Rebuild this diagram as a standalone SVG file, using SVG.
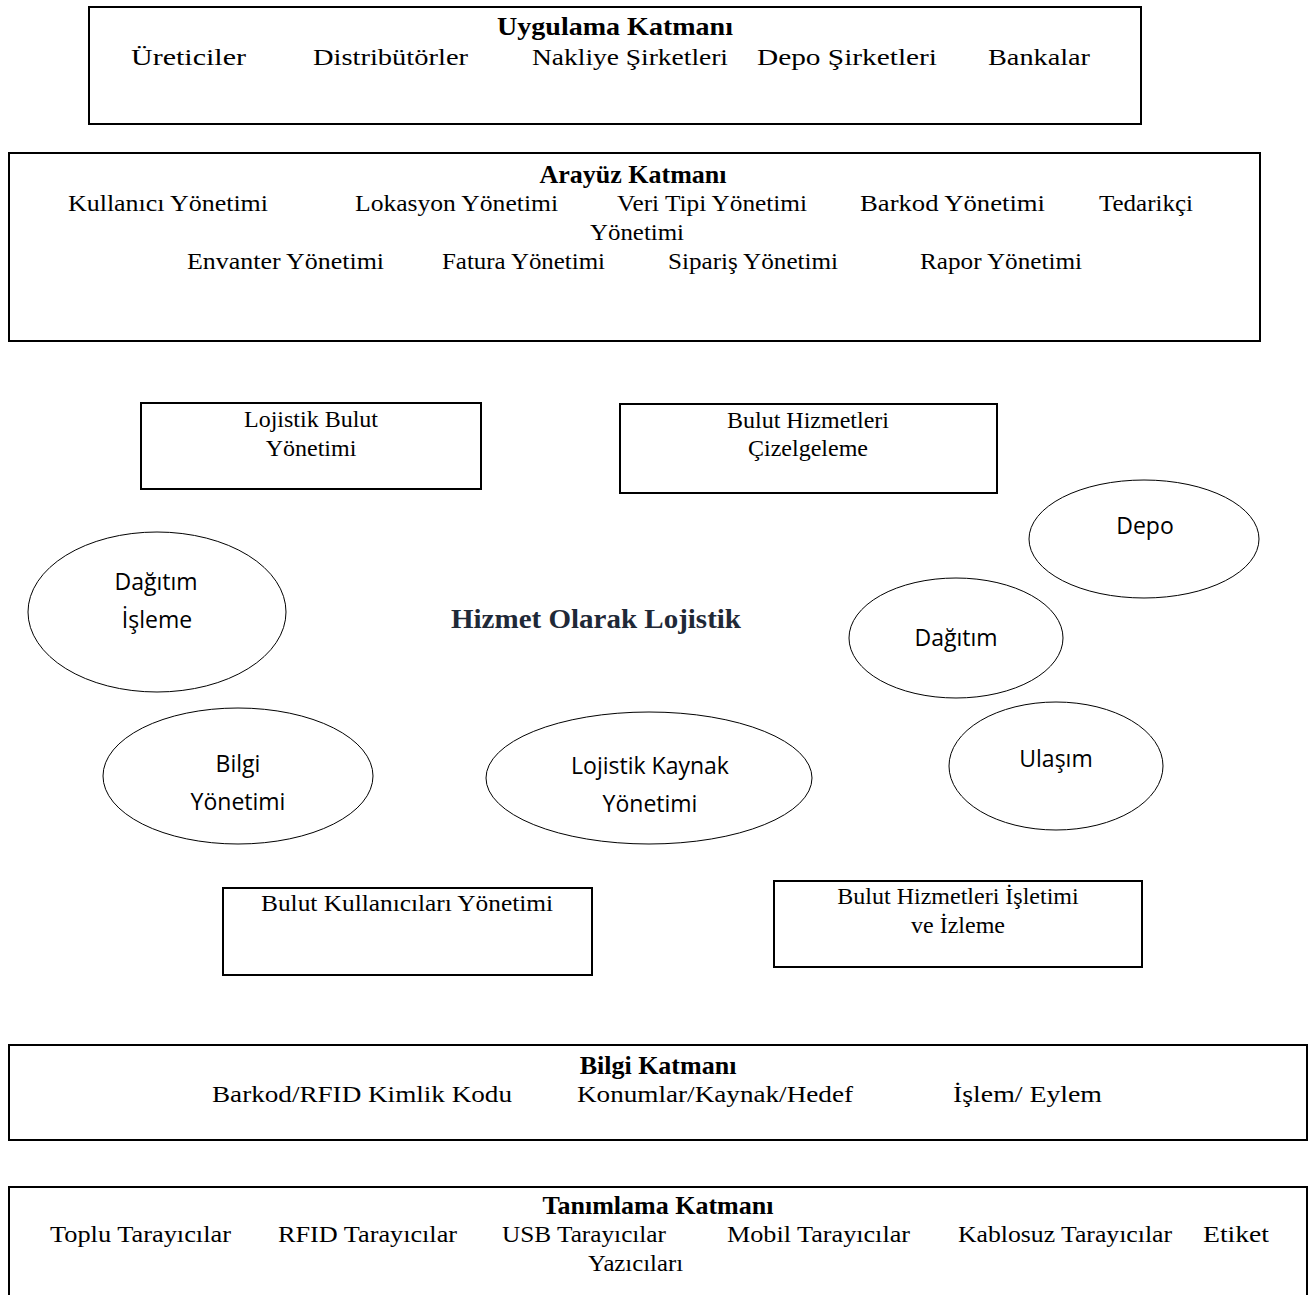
<svg xmlns="http://www.w3.org/2000/svg" width="1316" height="1295" viewBox="0 0 1316 1295">
<style>
.box{fill:#fff;stroke:#000;stroke-width:2}
.ell{fill:#fff;stroke:#000;stroke-width:1}
.t{font-family:"Liberation Serif",serif;font-size:24px;fill:#000}
.b{font-family:"Liberation Serif",serif;font-size:26px;font-weight:bold;fill:#000;text-anchor:middle}
.s{font-family:"Open Sans","Noto Sans",sans-serif;font-size:23px;fill:#000;text-anchor:middle}
.h{font-family:"Liberation Serif",serif;font-size:27px;font-weight:bold;fill:#1f2937}
.c{text-anchor:middle}
</style>
<rect width="1316" height="1295" fill="#fff"/>
<g id="connectors"></g>
<g id="uygulama">
<rect class="box" x="89" y="7" width="1052" height="117"/>
<text class="b" x="615" y="35" textLength="236" lengthAdjust="spacingAndGlyphs">Uygulama Katmanı</text>
<text class="t" x="131" y="65" textLength="115" lengthAdjust="spacingAndGlyphs">Üreticiler</text>
<text class="t" x="313" y="65" textLength="155" lengthAdjust="spacingAndGlyphs">Distribütörler</text>
<text class="t" x="532" y="65" textLength="196" lengthAdjust="spacingAndGlyphs">Nakliye Şirketleri</text>
<text class="t" x="757" y="65" textLength="180" lengthAdjust="spacingAndGlyphs">Depo Şirketleri</text>
<text class="t" x="988" y="65" textLength="102" lengthAdjust="spacingAndGlyphs">Bankalar</text>
</g>
<g id="arayuz">
<rect class="box" x="9" y="153" width="1251" height="188"/>
<text class="b" x="633" y="183">Arayüz Katmanı</text>
<text class="t" x="68" y="211" textLength="200" lengthAdjust="spacingAndGlyphs">Kullanıcı Yönetimi</text>
<text class="t" x="355" y="211" textLength="203" lengthAdjust="spacingAndGlyphs">Lokasyon Yönetimi</text>
<text class="t" x="617" y="211" textLength="190" lengthAdjust="spacingAndGlyphs">Veri Tipi Yönetimi</text>
<text class="t" x="860" y="211" textLength="185" lengthAdjust="spacingAndGlyphs">Barkod Yönetimi</text>
<text class="t" x="1099" y="211" textLength="94" lengthAdjust="spacingAndGlyphs">Tedarikçi</text>
<text class="t" x="590" y="240" textLength="94" lengthAdjust="spacingAndGlyphs">Yönetimi</text>
<text class="t" x="187" y="269" textLength="197" lengthAdjust="spacingAndGlyphs">Envanter Yönetimi</text>
<text class="t" x="442" y="269" textLength="163" lengthAdjust="spacingAndGlyphs">Fatura Yönetimi</text>
<text class="t" x="668" y="269" textLength="170" lengthAdjust="spacingAndGlyphs">Sipariş Yönetimi</text>
<text class="t" x="920" y="269" textLength="162" lengthAdjust="spacingAndGlyphs">Rapor Yönetimi</text>
</g>
<g id="lojistik-bulut">
<rect class="box" x="141" y="403" width="340" height="86"/>
<text class="t c" x="311" y="427">Lojistik Bulut</text>
<text class="t c" x="311" y="456">Yönetimi</text>
</g>
<g id="bulut-cizelge">
<rect class="box" x="620" y="404" width="377" height="89"/>
<text class="t c" x="808" y="428">Bulut Hizmetleri</text>
<text class="t c" x="808" y="456">Çizelgeleme</text>
</g>
<g id="hizmet">
<text class="h" x="451" y="628" textLength="290" lengthAdjust="spacingAndGlyphs">Hizmet Olarak Lojistik</text>
</g>
<g id="dagitim-isleme">
<ellipse class="ell" cx="157" cy="612" rx="129" ry="80"/>
<text class="s" x="156" y="590">Dağıtım</text>
<text class="s" x="157" y="628">İşleme</text>
</g>
<g id="depo">
<ellipse class="ell" cx="1144" cy="539" rx="115" ry="59"/>
<text class="s" x="1145" y="534">Depo</text>
</g>
<g id="dagitim">
<ellipse class="ell" cx="956" cy="638" rx="107" ry="60"/>
<text class="s" x="956" y="646">Dağıtım</text>
</g>
<g id="bilgi-yonetimi">
<ellipse class="ell" cx="238" cy="776" rx="135" ry="68"/>
<text class="s" x="238" y="772">Bilgi</text>
<text class="s" x="238" y="810">Yönetimi</text>
</g>
<g id="lojistik-kaynak">
<ellipse class="ell" cx="649" cy="778" rx="163" ry="66"/>
<text class="s" x="650" y="774">Lojistik Kaynak</text>
<text class="s" x="650" y="812">Yönetimi</text>
</g>
<g id="ulasim">
<ellipse class="ell" cx="1056" cy="766" rx="107" ry="64"/>
<text class="s" x="1056" y="767">Ulaşım</text>
</g>
<g id="bulut-kullanicilari">
<rect class="box" x="223" y="888" width="369" height="87"/>
<text class="t c" x="407" y="911" textLength="292" lengthAdjust="spacingAndGlyphs">Bulut Kullanıcıları Yönetimi</text>
</g>
<g id="bulut-isletim">
<rect class="box" x="774" y="881" width="368" height="86"/>
<text class="t c" x="958" y="904">Bulut Hizmetleri İşletimi</text>
<text class="t c" x="958" y="933">ve İzleme</text>
</g>
<g id="bilgi-katmani">
<rect class="box" x="9" y="1045" width="1298" height="95"/>
<text class="b" x="658" y="1074">Bilgi Katmanı</text>
<text class="t" x="212" y="1102" textLength="300" lengthAdjust="spacingAndGlyphs">Barkod/RFID Kimlik Kodu</text>
<text class="t" x="577" y="1102" textLength="276" lengthAdjust="spacingAndGlyphs">Konumlar/Kaynak/Hedef</text>
<text class="t" x="953" y="1102" textLength="149" lengthAdjust="spacingAndGlyphs">İşlem/ Eylem</text>
</g>
<g id="tanimlama">
<rect class="box" x="9" y="1187" width="1298" height="130"/>
<text class="b" x="658" y="1214">Tanımlama Katmanı</text>
<text class="t" x="50" y="1242" textLength="181" lengthAdjust="spacingAndGlyphs">Toplu Tarayıcılar</text>
<text class="t" x="278" y="1242" textLength="179" lengthAdjust="spacingAndGlyphs">RFID Tarayıcılar</text>
<text class="t" x="502" y="1242" textLength="164" lengthAdjust="spacingAndGlyphs">USB Tarayıcılar</text>
<text class="t" x="727" y="1242" textLength="183" lengthAdjust="spacingAndGlyphs">Mobil Tarayıcılar</text>
<text class="t" x="958" y="1242" textLength="214" lengthAdjust="spacingAndGlyphs">Kablosuz Tarayıcılar</text>
<text class="t" x="1203" y="1242" textLength="66" lengthAdjust="spacingAndGlyphs">Etiket</text>
<text class="t" x="588" y="1271" textLength="95" lengthAdjust="spacingAndGlyphs">Yazıcıları</text>
</g>
</svg>
